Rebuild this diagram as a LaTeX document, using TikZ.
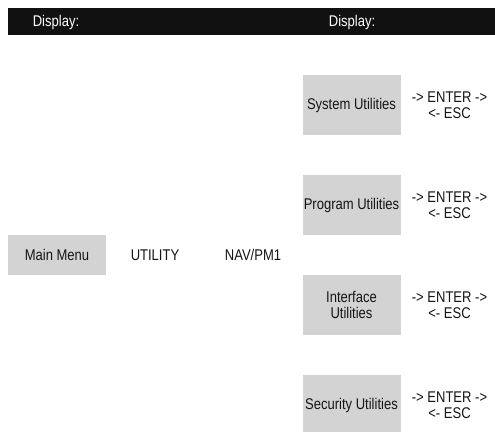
\documentclass[tikz,border=0pt]{standalone}
\usepackage{fontspec}
\setmainfont{Liberation Sans}[FakeStretch=0.84]
\definecolor{boxgray}{HTML}{D3D3D3}
\definecolor{barblack}{HTML}{111111}
\definecolor{inkblack}{HTML}{151515}
\begin{document}
\begin{tikzpicture}[x=1pt,y=-1pt,
  every node/.style={font=\fontsize{15.5}{16.5}\selectfont, inner sep=0pt, text=inkblack},
  menubox/.style={fill=boxgray, minimum width=98pt, minimum height=60pt, align=center},
  mainbox/.style={fill=boxgray, minimum width=98pt, minimum height=40pt, align=center},
  plainlabel/.style={align=center},
  keylabel/.style={align=center},
  bartext/.style={text=white}]
\useasboundingbox (0,0) rectangle (495,431);
\clip (0,0) rectangle (495,431);
\fill[white] (0,0) rectangle (495,431);
\fill[barblack] (8,8) rectangle (495,35);
\node[bartext] (disp1) at (56,22) {Display:};
\node[bartext] (disp2) at (352,22) {Display:};

\node[mainbox] (main) at (57,255) {Main Menu};
\node[plainlabel] (util) at (155,255) {UTILITY};
\node[plainlabel] (nav) at (253,255) {NAV/PM1};

\node[menubox] (sys) at (351.5,105) {System Utilities};
\node[menubox] (prog) at (351.5,205) {Program Utilities};
\node[menubox] (intf) at (351.5,305) {Interface\\Utilities};
\node[menubox] (sec) at (351.5,405) {Security Utilities};

\node[keylabel] (k1) at (449.5,105) {-> ENTER ->\\<- ESC};
\node[keylabel] (k2) at (449.5,205) {-> ENTER ->\\<- ESC};
\node[keylabel] (k3) at (449.5,305) {-> ENTER ->\\<- ESC};
\node[keylabel] (k4) at (449.5,405) {-> ENTER ->\\<- ESC};
\end{tikzpicture}
\end{document}
